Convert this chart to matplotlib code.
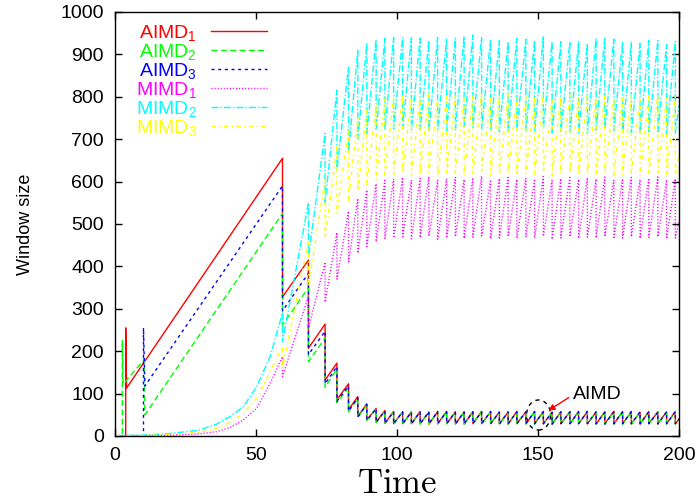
import matplotlib
matplotlib.use("Agg")
import matplotlib.pyplot as plt
from matplotlib.patches import Ellipse

plt.rcParams['font.family'] = ['Liberation Sans', 'DejaVu Sans']
plt.rcParams['mathtext.default'] = 'regular'

# ---- data ----
# synchronised loss instants shared by all six flows
drops = [59.4, 68.6, 74.5, 78.7, 82.8, 86.1, 89.3, 92.6, 95.7, 98.8,
         102.0, 105.1, 108.2, 111.3, 114.4, 117.6, 120.7, 123.8, 126.9, 130.0,
         133.2, 136.3, 139.4, 142.5, 145.7, 148.8, 151.9, 155.0, 158.1, 161.3,
         164.4, 167.5, 170.6, 173.7, 176.9, 180.0, 183.1, 186.2, 189.3, 192.5,
         195.6, 198.7]
t_end = 200

# AIMD flows: start-up points, window before / after each loss, value at t_end
aimd1_t0 = [0, 3.8, 3.8, 4.1]
aimd1_v0 = [0, 0, 255, 113]
aimd1_peak = [655, 415, 264, 172, 123, 93, 76, 65, 60, 58, 57, 57, 58, 56, 57, 58, 57, 56, 57, 58, 57,
              57, 56, 58, 57, 57, 58, 56, 57, 57, 58, 57, 56, 57, 58, 57, 57, 56, 58, 57, 57, 58]
aimd1_low = [328, 207, 132, 86, 62, 46, 38, 33, 30, 29, 29, 29, 29, 28, 29, 29, 29, 28, 29, 29, 29,
             29, 28, 29, 29, 29, 29, 28, 29, 29, 29, 29, 28, 29, 29, 29, 29, 28, 29, 29, 29, 29]
aimd1_end = 40

aimd2_t0 = [0, 2.6, 2.6, 2.9, 10.3, 10.6]
aimd2_v0 = [0, 0, 225, 122, 180, 50]
aimd2_peak = [525, 350, 231, 158, 114, 88, 73, 64, 59, 57, 56, 57, 56, 57, 56, 57, 57, 56, 56, 57, 56,
              57, 56, 57, 56, 57, 57, 56, 56, 57, 56, 57, 56, 57, 56, 57, 57, 56, 56, 57, 56, 57]
aimd2_low = [262, 175, 115, 79, 57, 44, 37, 32, 30, 29, 28, 28, 28, 28, 28, 29, 28, 28, 28, 28, 28,
             28, 28, 29, 28, 28, 28, 28, 28, 28, 28, 29, 28, 28, 28, 28, 28, 28, 28, 29, 28, 28]
aimd2_end = 39

aimd3_t0 = [0, 10.1, 10.1, 10.6]
aimd3_v0 = [0, 0, 255, 118]
aimd3_peak = [590, 384, 247, 164, 118, 90, 74, 64, 59, 57, 57, 56, 57, 57, 58, 57, 56, 57, 57, 57, 58,
              56, 57, 57, 57, 58, 57, 56, 57, 57, 57, 58, 57, 56, 57, 57, 58, 57, 57, 56, 57, 57]
aimd3_low = [295, 192, 123, 82, 59, 45, 37, 32, 30, 29, 29, 28, 29, 29, 29, 29, 28, 29, 29, 29, 29,
             28, 29, 29, 29, 29, 29, 28, 29, 29, 29, 29, 29, 28, 29, 29, 29, 29, 29, 28, 29, 29]
aimd3_end = 40

# MIMD flows: slow exponential start, then the same loss instants
mimd_t0 = [0, 10, 20, 30, 36, 40.8, 45.5, 50.2, 55]
mimd1_v0 = [1, 1, 2, 5, 10, 20, 38, 65, 124]
mimd1_peak = [187, 330, 410, 480, 530, 560, 580, 595, 603, 606, 610, 604, 608, 612, 603, 607, 611, 605,
              609, 613, 604, 607, 610, 605, 609, 606, 612, 603, 607, 610, 605, 609, 606, 611, 604, 607,
              610, 605, 608, 611, 604, 607]
mimd1_low = [140, 254, 316, 370, 408, 431, 447, 458, 464, 467, 470, 465, 468, 471, 464, 467, 470, 466,
             469, 472, 465, 467, 470, 466, 469, 467, 471, 464, 467, 470, 466, 469, 467, 470, 465, 467,
             470, 466, 468, 470, 465, 467]
mimd1_end = 505

mimd2_v0 = [1, 2, 6, 14, 28, 46, 69, 116, 187]
mimd2_peak = [290, 550, 714, 816, 870, 910, 927, 935, 938, 940, 940, 939, 938, 933, 940, 936, 938, 943,
              946, 940, 936, 933, 930, 938, 936, 933, 943, 930, 930, 930, 930, 926, 938, 940, 936, 930,
              928, 926, 933, 933, 924, 930]
mimd2_low = [222, 424, 550, 628, 670, 700, 714, 720, 722, 724, 724, 723, 722, 718, 724, 721, 722, 726,
             728, 724, 721, 718, 716, 722, 721, 718, 726, 716, 716, 716, 716, 713, 722, 724, 721, 716,
             715, 713, 718, 718, 711, 716]
mimd2_end = 780

mimd3_v0 = [1, 1, 4, 9, 18, 32, 53, 89, 152]
mimd3_peak = [211, 460, 605, 682, 722, 750, 770, 785, 795, 800, 805, 798, 802, 808, 796, 800, 806, 799,
              803, 810, 797, 801, 805, 798, 804, 800, 807, 796, 802, 805, 799, 803, 800, 806, 797, 801,
              804, 798, 802, 806, 797, 800]
mimd3_low = [160, 354, 466, 525, 556, 578, 593, 604, 612, 616, 620, 614, 617, 622, 613, 616, 620, 615,
             618, 624, 614, 617, 620, 614, 619, 616, 621, 613, 617, 620, 615, 618, 616, 620, 614, 617,
             619, 614, 617, 620, 614, 616]
mimd3_end = 660


def sawtooth(t0, v0, peaks, lows, end):
    t, v = list(t0), list(v0)
    for d, p, lo in zip(drops, peaks, lows):
        t += [d, d]
        v += [p, lo]
    t.append(t_end)
    v.append(end)
    return t, v


series = [
    ('AIMD$_1$', sawtooth(aimd1_t0, aimd1_v0, aimd1_peak, aimd1_low, aimd1_end), '#ff0000', '-'),
    ('AIMD$_2$', sawtooth(aimd2_t0, aimd2_v0, aimd2_peak, aimd2_low, aimd2_end), '#00ff00', (0, (4.3, 2.4))),
    ('AIMD$_3$', sawtooth(aimd3_t0, aimd3_v0, aimd3_peak, aimd3_low, aimd3_end), '#0000ff', (0, (2.2, 2.6))),
    ('MIMD$_1$', sawtooth(mimd_t0, mimd1_v0, mimd1_peak, mimd1_low, mimd1_end), '#ff00ff', (0, (0.8, 1.4))),
    ('MIMD$_2$', sawtooth(mimd_t0, mimd2_v0, mimd2_peak, mimd2_low, mimd2_end), '#00ffff', (0, (5, 1.5, 1, 1.5))),
    ('MIMD$_3$', sawtooth(mimd_t0, mimd3_v0, mimd3_peak, mimd3_low, mimd3_end), '#ffff00', (0, (3, 2.5, 1, 2.5))),
]

fig = plt.figure(figsize=(6.99, 5.0), dpi=100)
ax = fig.add_axes([115 / 699, 64 / 500, 564 / 699, 424 / 500])

for label, (t, v), col, ls in series:
    ax.plot(t, v, color=col, linestyle=ls, lw=1.0, label=label)

ax.set_xlim(0, 200)
ax.set_ylim(0, 1000)
ax.set_xticks([0, 50, 100, 150, 200])
ax.set_yticks(range(0, 1001, 100))
ax.tick_params(direction='in', length=5, width=1, top=True, right=True, labelsize=14, pad=8)
for s in ax.spines.values():
    s.set_linewidth(1.0)

ax.set_xlabel(r'$\mathrm{Time}$', math_fontfamily='cm', fontsize=25, labelpad=2)
ax.set_ylabel('Window size', fontsize=13, labelpad=19)

# legend gnuplot-style: text right aligned, sample to the right
leg = ax.legend(loc='upper left', bbox_to_anchor=(136 / 699, 1 - 23 / 500), bbox_transform=fig.transFigure,
                frameon=False, markerfirst=False, handlelength=2.9, handletextpad=0.7,
                labelspacing=-0.05, borderpad=0, borderaxespad=0, fontsize=14)
for txt, ln in zip(leg.get_texts(), leg.get_lines()):
    txt.set_color(ln.get_color())

# highlight of the AIMD steady state
ax.add_patch(Ellipse((150.2, 49.5), 8.5, 71, fill=False, ec='black', lw=1, ls=(0, (3, 3))))
ax.annotate('AIMD', xy=(153.7, 60), xytext=(162.3, 96.7), fontsize=14, ha='left', va='center',
            arrowprops=dict(arrowstyle='-|>', color='red', lw=1, mutation_scale=9,
                            shrinkA=1, shrinkB=0, relpos=(0, 0.5)))

fig.savefig('out.png', dpi=100)
